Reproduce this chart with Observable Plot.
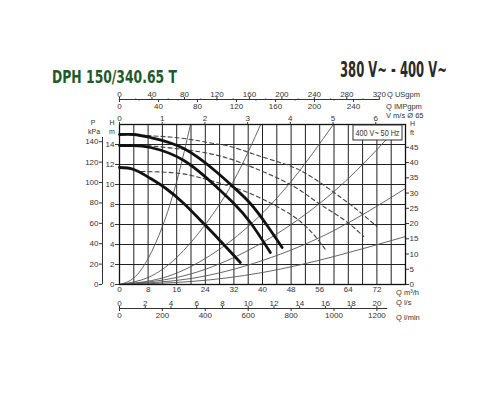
<!DOCTYPE html>
<html><head><meta charset="utf-8">
<script src="https://cdn.jsdelivr.net/npm/d3@7"></script>
<script src="https://cdn.jsdelivr.net/npm/@observablehq/plot@0.6"></script>
<style>body{margin:0;background:#fff;} #chart svg{display:block}</style>
</head><body><div id="chart"></div>
<script>
// ---- Pump curves (Q m3/h, H m) ----
const speed3Q = [0, 4, 8.7, 18, 27.3, 32, 36.6, 41.3, 45.5];
const speed3H = [15.0, 15.0, 14.7, 13.6, 11.2, 9.7, 8.1, 5.9, 3.7];
const speed2Q = [0, 4, 8.7, 18, 27.3, 32, 36.6, 42.2];
const speed2H = [13.9, 13.9, 13.7, 12.4, 9.7, 8.1, 6.2, 3.2];
const speed1Q = [0, 4, 8.7, 13, 18, 22.7, 27.3, 33.8];
const speed1H = [11.7, 11.5, 10.6, 9.6, 8.1, 6.4, 4.7, 2.2];
// ---- Dashed curves ----
const dash3Q = [7.7, 18, 26.4, 32, 41.3, 50.6, 60, 66, 72];
const dash3H = [14.9, 14.6, 14.1, 13.7, 12.6, 11.4, 9.2, 7.6, 5.8];
const dash2Q = [7.7, 18, 26.4, 33, 39.4, 45, 50.6, 56.2, 62.7, 68.3];
const dash2H = [13.9, 13.5, 13.0, 12.3, 11.4, 10.5, 9.4, 8.0, 6.5, 4.8];
const dash1Q = [6, 17, 26.4, 36.6, 46, 50.6, 54.3, 57.6];
const dash1H = [11.3, 11.1, 10.3, 9.1, 7.4, 6.3, 5.0, 3.5];
// ---- System curves (thin) ----
const sysAQ = [0, 4, 8, 12, 16, 20];
const sysAH = [0, 0.65, 2.6, 5.8, 10.3, 16.2];
const sysBQ = [0, 8, 16, 24, 32, 40];
const sysBH = [0, 0.7, 2.7, 6.0, 10.4, 16.4];
const sysCQ = [0, 12, 24, 36, 48, 60];
const sysCH = [0, 0.65, 2.6, 5.8, 10.3, 16.1];
const sysDQ = [0, 16, 32, 48, 64, 80];
const sysDH = [0, 0.7, 2.7, 6.0, 10.6, 16.6];
const sysEQ = [0, 20, 40, 60, 80];
const sysEH = [0, 0.6, 2.4, 5.4, 9.6];
const sysFQ = [0, 20, 40, 60, 80];
const sysFH = [0, 0.3, 1.2, 2.8, 4.8];
// ---- Tick labels ----
const qM3hTicks = [0, 8, 16, 24, 32, 40, 48, 56, 64, 72];
const qLsTicks = [0, 2, 4, 6, 8, 10, 12, 14, 16, 18, 20];
const qLminTicks = [0, 200, 400, 600, 800, 1000, 1200];
const usgpmTicks = [0, 40, 80, 120, 160, 200, 240, 280, 320];
const usgpmMinor = [20, 60, 100, 140, 180, 220, 260, 300];
const impgpmTicks = [0, 40, 80, 120, 160, 200, 240];
const impgpmMinor = [20, 60, 100, 140, 180, 220];
const velTicks = [0, 1, 2, 3, 4, 5, 6];
const hTicks = [0, 2, 4, 6, 8, 10, 12, 14];
const kpaTicks = [0, 20, 40, 60, 80, 100, 120, 140];
const ftTicks = [0, 5, 10, 15, 20, 25, 30, 35, 40, 45];
const gridQ = [4, 8, 12, 16, 20, 24, 28, 32, 36, 40, 44, 48, 52, 56, 60, 64, 68, 72, 76];
const gridH = [2, 4, 6, 8, 10, 12, 14];

// unit conversions to m3/h and m
const USGPM = 0.22712, IMPGPM = 0.27277, LS = 3.6, LMIN = 0.06, VEL = 11.946;
const KPA = 1 / 9.80665, FT = 0.3048;
const fmt = k => d => String(Math.round(d / k));

const tidy = (id, qs, hs) => qs.map((q, i) => ({id, q, h: hs[i]}));
const pump = [...tidy("s3", speed3Q, speed3H), ...tidy("s2", speed2Q, speed2H), ...tidy("s1", speed1Q, speed1H)];
const dashed = [...tidy("d3", dash3Q, dash3H), ...tidy("d2", dash2Q, dash2H), ...tidy("d1", dash1Q, dash1H)];
const sys = [...tidy("A", sysAQ, sysAH), ...tidy("B", sysBQ, sysBH), ...tidy("C", sysCQ, sysCH),
             ...tidy("D", sysDQ, sysDH), ...tidy("E", sysEQ, sysEH), ...tidy("F", sysFQ, sysFH)];

const ax = {label: null, fontSize: 8};
const plot = Plot.plot({
  width: 500, height: 400,
  marginLeft: 119, marginRight: 95, marginTop: 124, marginBottom: 116,
  x: {domain: [0, 80], axis: null, label: null},
  y: {domain: [0, 16], axis: null, label: null},
  style: {fontFamily: "'Liberation Sans', Arial, sans-serif", fontSize: "8px", color: "#333", background: "white", overflow: "visible"},
  marks: [
    Plot.ruleX(gridQ, {stroke: "#222", strokeWidth: 1}),
    Plot.ruleY(gridH, {stroke: "#222", strokeWidth: 1}),
    Plot.line(sys, {x: "q", y: "h", z: "id", stroke: "#555", strokeWidth: 0.9, curve: "natural", clip: true}),
    Plot.line(dashed, {x: "q", y: "h", z: "id", stroke: "#444", strokeWidth: 1.1, strokeDasharray: "4,3", curve: "natural"}),
    Plot.line(pump, {x: "q", y: "h", z: "id", stroke: "#111", strokeWidth: 2.8, curve: "natural"}),
    Plot.frame({stroke: "#111", strokeWidth: 1.3}),
    // bottom m3/h
    Plot.axisX(qM3hTicks, {...ax, anchor: "bottom", tickSize: 0, tickPadding: 2}),
    // l/s (above line) and l/min (below line)
    Plot.ruleY([0], {x1: 0, x2: 75, dy: 24, stroke: "#333"}),
    Plot.axisX(qLsTicks.map(d => d * LS), {...ax, anchor: "top", dy: 184, tickSize: 3, tickPadding: 0, tickFormat: fmt(LS)}),
    Plot.axisX(qLminTicks.map(d => d * LMIN), {...ax, anchor: "bottom", dy: 24, tickSize: 3, tickPadding: 1, tickFormat: fmt(LMIN)}),
    // top: velocity
    Plot.axisX(velTicks.map(d => d * VEL), {...ax, anchor: "top", tickSize: 3, tickPadding: 1, tickFormat: fmt(VEL)}),
    // top: USgpm & IMPgpm
    Plot.ruleY([16], {x1: 0, x2: 320 * USGPM, dy: -25, stroke: "#333"}),
    Plot.axisX(usgpmTicks.map(d => d * USGPM), {...ax, anchor: "top", dy: -25, tickSize: 3, tickPadding: 0, tickFormat: fmt(USGPM)}),
    Plot.axisX(usgpmMinor.map(d => d * USGPM), {...ax, anchor: "top", dy: -25, tickSize: 1.5, tickFormat: () => ""}),
    Plot.axisX(impgpmTicks.map(d => d * IMPGPM), {...ax, anchor: "bottom", dy: -185, tickSize: 3, tickPadding: 1, tickFormat: fmt(IMPGPM)}),
    Plot.axisX(impgpmMinor.map(d => d * IMPGPM), {...ax, anchor: "bottom", dy: -185, tickSize: 1.5, tickFormat: () => ""}),
    // left H m
    Plot.axisY(hTicks, {...ax, anchor: "left", tickSize: 4, tickPadding: 1}),
    // left P kPa
    Plot.ruleX([0], {y1: 0, y2: 14.7, dx: -17, stroke: "#333"}),
    Plot.axisY(kpaTicks.map(d => d * KPA), {...ax, anchor: "left", dx: -17, tickSize: 3, tickPadding: 1, tickFormat: fmt(KPA)}),
    // right H ft
    Plot.axisY(ftTicks.map(d => d * FT), {...ax, anchor: "right", tickSize: 3, tickPadding: 1, tickFormat: fmt(FT)})
  ]
});
document.getElementById("chart").appendChild(plot);

const svg = d3.select(plot);
const t = (x, y, s, opts = {}) => {
  const g = svg.append("g").attr("transform", `translate(${x},${y})`);
  const e = g.append("text").text(s)
    .attr("font-family", opts.family || "'Liberation Sans', Arial, sans-serif")
    .attr("font-size", opts.size || 8).attr("fill", opts.fill || "#333")
    .attr("text-anchor", opts.anchor || "start");
  if (opts.weight) e.attr("font-weight", opts.weight);
  if (opts.width) {
    const w = e.node().getComputedTextLength();
    if (w > 0) e.attr("transform", `scale(${opts.width / w},1)`);
  }
  return e;
};
// titles
const titleFont = "'DejaVu Sans', sans-serif";
t(52, 83, "DPH 150/340.65 T", {family: titleFont, size: 18, weight: "bold", fill: "#1e5a2b", width: 125});
t(340, 77, "380 V~ - 400 V~", {family: titleFont, size: 20.5, weight: "bold", fill: "#2a2a2a", width: 107});
// axis captions
t(93, 125, "P", {anchor: "middle", size: 7});
t(94, 133.5, "kPa", {anchor: "middle", size: 7});
t(112, 125, "H", {anchor: "middle", size: 7});
t(112, 133.5, "m", {anchor: "middle", size: 7});
t(410, 126, "H", {size: 7});
t(410, 135, "ft", {size: 7});
t(387, 97, "Q USgpm", {size: 7.5});
t(386, 109, "Q IMPgpm", {size: 7.5});
t(386, 118, "V m/s Ø 65", {size: 7.5});
t(396, 295, "Q m³/h", {size: 7.5});
t(396, 304.5, "Q l/s", {size: 7.5});
t(396, 320, "Q l/min", {size: 7.5});
// legend box
svg.append("rect").attr("x", 353).attr("y", 125).attr("width", 49).attr("height", 15)
  .attr("fill", "white").attr("stroke", "#333").attr("stroke-width", 1);
t(377.5, 136, "400 V~ 50 Hz", {anchor: "middle", size: 9.5, width: 44});
</script>
</body></html>
